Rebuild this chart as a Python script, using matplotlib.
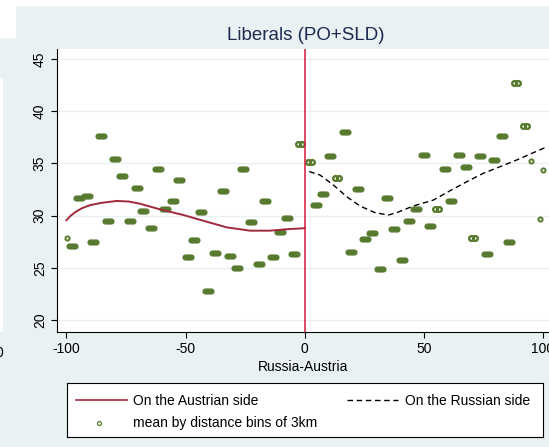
import numpy as np
import matplotlib
matplotlib.use("Agg")
import matplotlib.pyplot as plt
from matplotlib.path import Path
from matplotlib.patches import Rectangle

plt.rcParams['font.family'] = ['Liberation Sans', 'DejaVu Sans']

# ---------------- data ----------------
title = "Liberals (PO+SLD)"
xlabel = "Russia-Austria"
xticks = [-100, -50, 0, 50, 100]
yticks = [20, 25, 30, 35, 40, 45]

# bin means (3km bins): x position, mean value, approx. number of observations in bin
bin_x = [-99.8, -97.7, -94.6, -91.4, -88.7, -85.6, -82.6, -79.6, -76.7, -73.3,
         -70.6, -67.9, -64.4, -61.6, -58.7, -55.2, -52.8, -49.2, -46.5, -43.5,
         -40.6, -37.5, -34.4, -31.2, -28.5, -25.9, -22.6, -19.3, -16.8, -13.2,
         -10.5, -7.5, -4.5, -1.9,
         2.4, 4.6, 7.5, 10.6, 13.5, 16.7, 19.3, 22.4, 25.4, 28.3,
         31.5, 34.7, 37.3, 40.7, 43.8, 46.6, 50.1, 52.6, 55.7, 59.0,
         61.5, 64.7, 67.8, 70.5, 73.5, 76.5, 79.6, 82.7, 85.7, 88.5,
         92.3, 95.0, 98.6, 99.9]
bin_y = [27.87, 27.10, 31.72, 31.88, 27.51, 37.65, 29.49, 35.39, 33.82, 29.49,
         32.68, 30.42, 28.82, 34.49, 30.61, 31.38, 33.44, 26.08, 27.65, 30.33,
         22.80, 26.46, 32.39, 26.12, 24.97, 34.46, 29.37, 25.35, 31.38, 26.02,
         28.47, 29.78, 26.31, 36.85,
         35.11, 31.05, 32.10, 35.68, 33.58, 38.03, 26.56, 32.58, 27.80, 28.39,
         24.86, 31.67, 28.76, 25.75, 29.47, 30.61, 35.77, 28.97, 30.61, 34.46,
         31.38, 35.77, 34.66, 27.84, 35.74, 26.32, 35.35, 37.59, 27.51, 42.66,
         38.55, 35.23, 29.66, 34.34]
bin_n = [1, 5, 5, 5, 5, 5, 5, 5, 5, 5,
         5, 5, 5, 5, 5, 5, 5, 5, 5, 5,
         5, 5, 5, 5, 5, 5, 5, 5, 5, 5,
         5, 5, 5, 2,
         2, 5, 5, 5, 2, 5, 5, 5, 5, 5,
         5, 5, 5, 5, 5, 5, 5, 5, 2, 5,
         5, 5, 5, 2, 5, 5, 5, 5, 5, 2,
         2, 1, 1, 1]

# fitted curves
aus_x = [-100, -98.5, -96.4, -93.5, -90.0, -85.0, -78.9, -74.0, -69.2, -60.8,
         -51.0, -41.2, -32.8, -23.0, -14.6, -6.2, 0]
aus_y = [29.57, 29.95, 30.33, 30.72, 31.02, 31.24, 31.41, 31.36, 31.15, 30.61,
         30.07, 29.43, 28.89, 28.57, 28.57, 28.73, 28.80]
rus_x = [1.9, 6.4, 12.0, 17.6, 23.2, 29.5, 35.1, 38.6, 45.6, 54.0,
         61.0, 68.0, 74.9, 81.9, 89.0, 95.9, 100.8]
rus_y = [34.22, 33.89, 32.94, 31.82, 30.93, 30.29, 30.07, 30.29, 30.93, 31.50,
         32.39, 33.25, 34.05, 34.68, 35.33, 36.02, 36.50]

legend_labels = ["On the Austrian side", "On the Russian side",
                 "mean by distance bins of 3km"]

# ---------------- style ----------------
W, H = 549, 447
BG = '#eaf1f3'
GREEN = '#587a2f'
CRAN = '#9e2a3b'
VRED = '#d6173d'

fig = plt.figure(figsize=(W / 100, H / 100), dpi=100)
fig.patch.set_facecolor('white')


def fbox(x0, y0, x1, y1):
    return (x0 / W, 1 - y1 / H, (x1 - x0) / W, (y1 - y0) / H)


for (x0, y0, x1, y1) in [(16, 6, W, H), (0, 38, 16, H)]:
    l, b, w, h = fbox(x0, y0, x1, y1)
    fig.patches.append(Rectangle((l, b), w, h, transform=fig.transFigure,
                                 facecolor=BG, edgecolor='none', zorder=-10))
l, b, w, h = fbox(0, 78, 3.3, 332)
fig.patches.append(Rectangle((l, b), w, h, transform=fig.transFigure,
                             facecolor='white', edgecolor='none', zorder=-9))
fig.text(-0.4 / W, 1 - 353 / H, "0", fontsize=10, ha='center', va='center')

# main axes
ax = fig.add_axes(fbox(57.3, 49.3, W, 331.5))
ax.set_facecolor('white')
ax.set_xlim(-103.86, 102.52)
ax.set_ylim(18.93, 45.91)
for s in ['top', 'right']:
    ax.spines[s].set_visible(False)
for s in ['left', 'bottom']:
    ax.spines[s].set_linewidth(0.8)
    ax.spines[s].set_color('black')
ax.set_xticks(xticks)
ax.set_xticklabels([str(v) for v in xticks], fontsize=10)
ax.set_yticks(yticks)
ax.set_yticklabels([str(v) for v in yticks], fontsize=10, rotation=90, va='center')
ax.tick_params(axis='both', length=4, width=0.8, color='black', pad=3.5)
ax.yaxis.grid(True, color=BG, lw=1.0)
ax.set_axisbelow(True)
ax.set_xlabel(xlabel, fontsize=10, labelpad=3)

# marker shapes
t = np.linspace(-np.pi / 2, np.pi / 2, 14)
r = 0.46
right = np.column_stack([1 - r + r * np.cos(t), r * np.sin(t)])
left = np.column_stack([-(1 - r) - r * np.cos(t), -r * np.sin(t)])
stad_v = np.vstack([right, left, right[:1]])
stadium = Path(stad_v, closed=True)
double_o = Path.make_compound_path(Path.circle((-0.45, 0), 0.55),
                                   Path.circle((0.45, 0), 0.55))

bx = np.array(bin_x)
by = np.array(bin_y)
bn = np.array(bin_n)
m = bn >= 3
ax.plot(bx[m], by[m], ls='none', marker=stadium, ms=8.0, mfc=GREEN, mec=GREEN,
        mew=0.7, zorder=3)
m = bn == 2
ax.plot(bx[m], by[m], ls='none', marker=double_o, ms=6.2, mfc='none', mec=GREEN,
        mew=1.7, zorder=3)
m = bn == 1
ax.plot(bx[m], by[m], ls='none', marker='o', ms=3.0, mfc='none', mec=GREEN,
        mew=1.4, zorder=3)

ax.plot(aus_x, aus_y, color=CRAN, lw=1.4, zorder=4)
ax.plot(rus_x, rus_y, color='black', lw=1.0, dashes=(4, 2.6), zorder=4)
ax.axvline(0, color=VRED, lw=1.1, zorder=5)

fig.text(306 / W, 1 - 35 / H, title, fontsize=13.5, color='#1c2b4f',
         ha='center', va='center')

# legend box (drawn in pixel coordinates)
lax = fig.add_axes(fbox(66.5, 383.3, 543, 437))
lax.set_xlim(66.5, 543)
lax.set_ylim(437, 383.3)
lax.set_xticks([])
lax.set_yticks([])
lax.set_facecolor('white')
for s in lax.spines.values():
    s.set_linewidth(0.8)
    s.set_color('black')
lax.plot([76, 127], [400.5, 400.5], color=CRAN, lw=1.2)
lax.text(133, 401, legend_labels[0], fontsize=10, va='center', ha='left')
lax.plot([347, 398], [400.5, 400.5], color='black', lw=1.0, dashes=(4, 2.6))
lax.text(405, 401, legend_labels[1], fontsize=10, va='center', ha='left')
lax.plot([99], [423], ls='none', marker='o', ms=2.8, mfc='none', mec=GREEN, mew=0.9)
lax.text(133, 423.5, legend_labels[2], fontsize=10, va='center', ha='left')

fig.savefig("out.png", dpi=100)
